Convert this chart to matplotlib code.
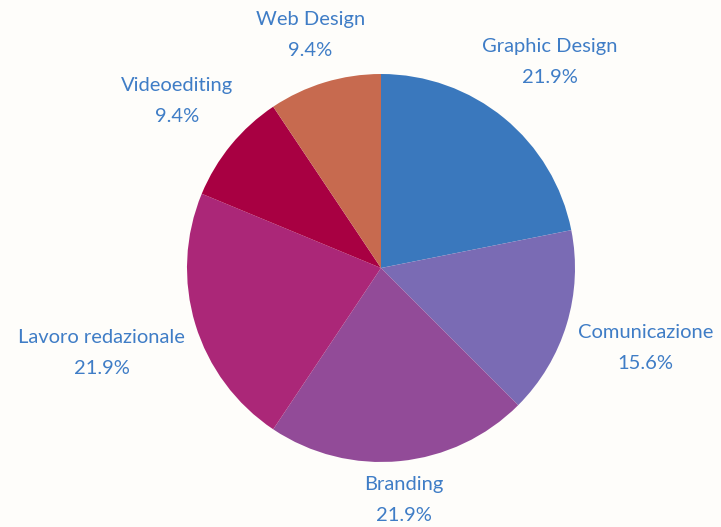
import numpy as np
import matplotlib
matplotlib.use("Agg")
import matplotlib.pyplot as plt

categories = ["Graphic Design", "Comunicazione", "Branding", "Lavoro redazionale", "Videoediting", "Web Design"]
values = [7, 5, 7, 7, 3, 3]
colors = ["#3a78bd", "#7a6bb4", "#924b98", "#ab2778", "#a80042", "#c76a4f"]
text_color = "#3f7dc6"
bg = "#fefdfa"

W, H = 721, 527
fig = plt.figure(figsize=(W / 100, H / 100), dpi=100, facecolor=bg)
ax = fig.add_axes([0, 0, 1, 1])
ax.set_facecolor(bg)

cx, cy, R = 381, H - 268, 194
wedges, _ = ax.pie(values, colors=colors, startangle=90, counterclock=False,
                   center=(cx, cy), radius=R, frame=True,
                   wedgeprops=dict(linewidth=0))
ax.set_xlim(0, W)
ax.set_ylim(0, H)
ax.set_aspect("equal")
ax.axis("off")

total = sum(values)
texts = []
for w, cat, v in zip(wedges, categories, values):
    ang = np.deg2rad((w.theta1 + w.theta2) / 2)
    pct = 100 * v / total
    t = ax.text(0, 0, f"{cat}\n{pct:.1f}%", ha="center", va="center",
                fontsize=14.5, color=text_color, family="Lato", linespacing=2.0)
    texts.append((t, ang))

fig.canvas.draw()
rend = fig.canvas.get_renderer()
anchor = 205
for t, ang in texts:
    bb = t.get_window_extent(renderer=rend)
    hw, hh = bb.width / 2, bb.height / 2
    c, s = np.cos(ang), np.sin(ang)
    r = anchor + hw * abs(c) + hh * abs(s)
    t.set_position((cx + r * c, cy + r * s))

fig.savefig("out.png", dpi=100, facecolor=bg)
